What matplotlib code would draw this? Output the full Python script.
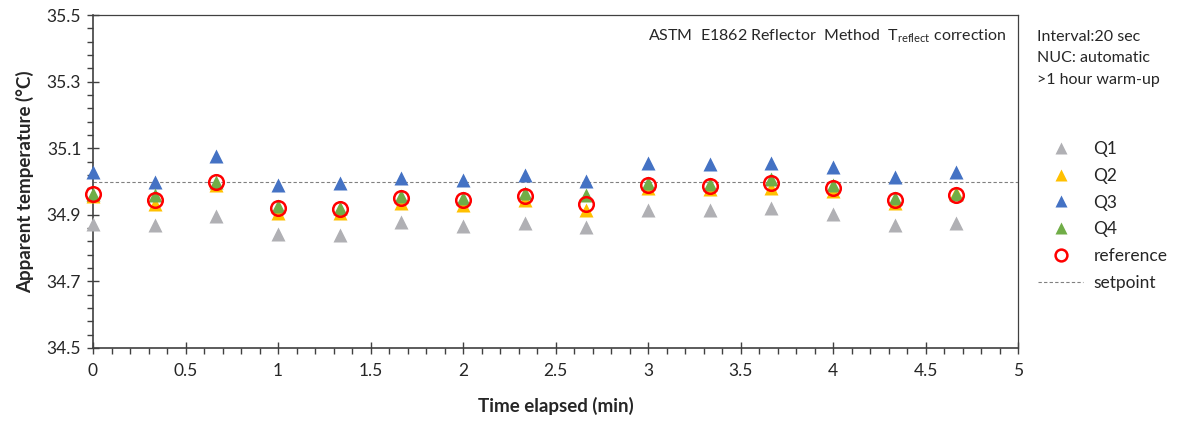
import matplotlib
matplotlib.use("Agg")
import matplotlib.pyplot as plt
from matplotlib.ticker import MultipleLocator
from matplotlib.lines import Line2D

plt.rcParams['font.family'] = ['Lato', 'DejaVu Sans']

# time of each reading (min), one every 20 s
time_min = [0, 1/3, 2/3, 1, 4/3, 5/3, 2, 7/3, 8/3, 3, 10/3, 11/3, 4, 13/3, 14/3]

# apparent temperature per quadrant (deg C)
q1 = [34.873, 34.870, 34.897, 34.843, 34.838, 34.878, 34.865, 34.875, 34.862, 34.913, 34.913, 34.920, 34.903, 34.870, 34.875]
q2 = [34.955, 34.933, 34.990, 34.905, 34.905, 34.935, 34.930, 34.945, 34.913, 34.980, 34.978, 34.980, 34.970, 34.935, 34.965]
q3 = [35.030, 35.000, 35.077, 34.988, 34.995, 35.012, 35.005, 35.020, 35.003, 35.057, 35.053, 35.057, 35.045, 35.015, 35.030]
q4 = [34.962, 34.960, 35.000, 34.925, 34.920, 34.955, 34.950, 34.965, 34.960, 34.995, 34.993, 35.007, 34.990, 34.950, 34.962]
reference = [34.962, 34.945, 34.997, 34.920, 34.917, 34.950, 34.945, 34.955, 34.933, 34.988, 34.987, 34.995, 34.980, 34.945, 34.960]
setpoint = 35.0

fig = plt.figure(figsize=(11.82, 4.21), dpi=100)
ax = fig.add_axes([93/1182, 1 - 348/421, 925/1182, 333/421])

ms = 9.5
ax.plot(time_min, q1, '^', color='#B0B0B4', ms=ms, mec='none', label='Q1', zorder=3, clip_on=False)
ax.plot(time_min, q2, '^', color='#FFC000', ms=ms, mec='none', label='Q2', zorder=4, clip_on=False)
ax.plot(time_min, q3, '^', color='#4472C4', ms=ms, mec='none', label='Q3', zorder=5, clip_on=False)
ax.plot(time_min, q4, '^', color='#70AD47', ms=ms, mec='none', label='Q4', zorder=6, clip_on=False)
ax.plot(time_min, reference, 'o', mfc='none', mec='#FF0000', mew=1.8, ms=10.5,
        label='reference', zorder=7, clip_on=False)
ax.axhline(setpoint, color='#808080', lw=0.8, ls=(0, (3, 2)), label='setpoint', zorder=2)

ax.set_xlim(0, 5)
ax.set_ylim(34.5, 35.5)
ax.xaxis.set_major_locator(MultipleLocator(0.5))
ax.xaxis.set_minor_locator(MultipleLocator(0.1))
ax.yaxis.set_major_locator(MultipleLocator(0.2, offset=0.1))
ax.yaxis.set_minor_locator(MultipleLocator(0.04, offset=0.02))
ax.xaxis.set_major_formatter(matplotlib.ticker.FuncFormatter(lambda v, p: f'{v:g}'))
ax.yaxis.set_major_formatter(matplotlib.ticker.FormatStrFormatter('%.1f'))
ax.tick_params(which='major', direction='inout', length=9, width=1, color='#404040',
               labelsize=12.5, labelcolor='#262626', pad=6)
ax.tick_params(which='minor', direction='out', length=4.5, width=1, color='#404040')
ax.tick_params(axis='y', which='major', pad=4)
for side in ['left', 'bottom']:
    ax.spines[side].set_color('#404040')
    ax.spines[side].set_linewidth(1.2)
for side in ['top', 'right']:
    ax.spines[side].set_color('#404040')
    ax.spines[side].set_linewidth(0.9)

ax.set_xlabel('Time elapsed (min)', fontsize=13.5, fontweight='bold', color='#262626', labelpad=13)
ax.set_ylabel('Apparent temperature (°C)', fontsize=13.5, fontweight='bold', color='#262626', labelpad=9)

ax.text(0.987, 0.935, r'ASTM  E1862 Reflector  Method  T$_{\mathregular{reflect}}$ correction',
        transform=ax.transAxes, ha='right', va='center', fontsize=11.5, color='#262626')

notes = ['Interval:20 sec', 'NUC: automatic', '>1 hour warm-up']
for i, line in enumerate(notes):
    fig.text(1037/1182, 1 - (37 + 21.5*i)/421, line, ha='left', va='center',
             fontsize=11.5, color='#262626')

handles = [
    Line2D([], [], ls='none', marker='^', color='#B0B0B4', mec='none', ms=8.5),
    Line2D([], [], ls='none', marker='^', color='#FFC000', mec='none', ms=8.5),
    Line2D([], [], ls='none', marker='^', color='#4472C4', mec='none', ms=8.5),
    Line2D([], [], ls='none', marker='^', color='#70AD47', mec='none', ms=8.5),
    Line2D([], [], ls='none', marker='o', mfc='none', mec='#FF0000', mew=1.8, ms=8.5),
    Line2D([], [], color='#808080', lw=0.8, ls=(0, (3, 2))),
]
labels = ['Q1', 'Q2', 'Q3', 'Q4', 'reference', 'setpoint']
fig.legend(handles, labels, loc='upper left', bbox_to_anchor=(1038/1182, 1 - 141/421),
           frameon=False, fontsize=12.5, handlelength=2.6, handletextpad=0.6,
           labelspacing=0.62, borderaxespad=0, borderpad=0, labelcolor='#262626')

fig.savefig('out.png', dpi=100)
